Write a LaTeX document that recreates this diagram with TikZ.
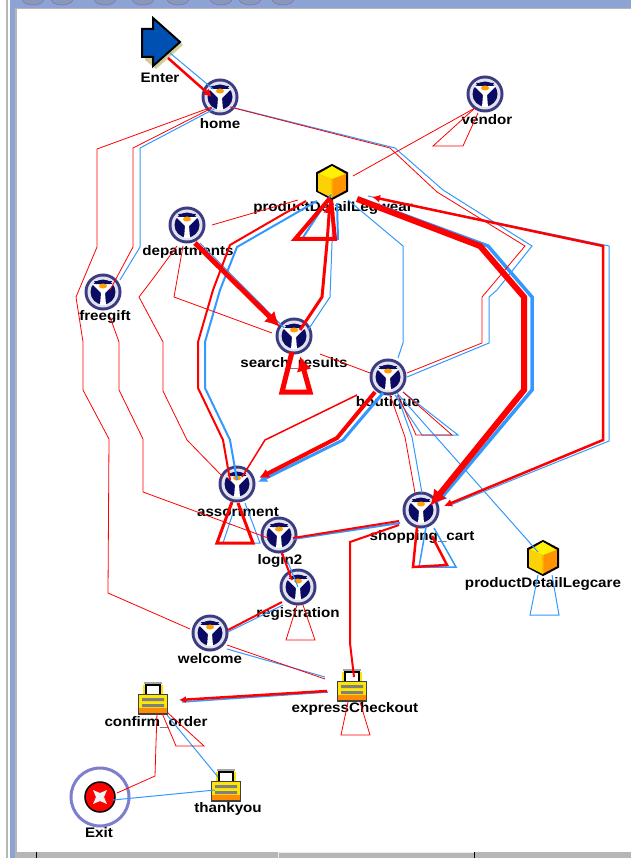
\documentclass[tikz,border=0pt]{standalone}
\usepackage{fontspec}
\setmainfont[FakeStretch=1.1]{Liberation Sans}
\usetikzlibrary{arrows.meta}
\definecolor{flowred}{HTML}{FF0000}
\definecolor{flowblue}{HTML}{3399FF}
\definecolor{navy}{HTML}{0B0B63}
\definecolor{panel}{HTML}{8CA3D3}
\definecolor{barg}{HTML}{B6B6B6}
\tikzset{
  hub/.style={circle,inner sep=0pt,outer sep=0pt,minimum size=26pt},
  lbl/.style={inner sep=0pt,font=\bfseries\fontsize{13.8}{14}\selectfont,text=black},
  rline/.style={flowred,line join=miter,line width=#1},
  rline/.default=0.8pt,
  bline/.style={flowblue,line join=miter,line width=#1},
  bline/.default=1pt,
  head/.style={-{Latex[length=#1,width=#1]}},
  martiniicon/.pic={
    \fill[navy!80] (0,0) circle (18.5);
    \fill[white!88!navy] (0,0) circle (15.5);
    \fill[navy] (0,0) circle (12.5);
    \fill[white] (-11,-8) -- (11,-8) -- (2,1) -- (3,13) -- (-3,13) -- (-2,1) -- cycle;
    \fill[navy] (-9,-11) -- (9,-11) -- (7,-8) -- (-7,-8) -- cycle;
    \fill[orange!75!yellow] (0,-6) ellipse (4 and 2.5);
  },
  lockicon/.pic={
    \draw[black,line width=1.5pt,fill=white] (-7,-3) -- (-7,-13) -- (7,-13) -- (7,-3);
    \draw[yellow!85!orange,line width=2pt] (-9,-3) -- (-9,-13) (9,-3) -- (9,-13);
    \draw[gray!70,line width=2.5pt] (-9,-15) -- (9,-15);
    \fill[black!75] (-15,-4) rectangle (15,17);
    \fill[yellow!90!orange] (-14,-3) rectangle (14,12);
    \fill[orange!90!yellow] (-14,10) rectangle (14,15);
    \fill[gray] (-11,0) rectangle (11,3) (-11,6) rectangle (11,9);
  },
  cubeicon/.pic={
    \draw[black,line width=2pt,fill=orange!85!yellow] (0,-17) -- (15,-9) -- (15,9) -- (0,17) -- (-15,9) -- (-15,-9) -- cycle;
    \fill[yellow] (0,-16) -- (13,-8) -- (0,-3) -- (-13,-8) -- cycle;
    \fill[yellow!70!orange] (-14,-8) -- (0,-3) -- (0,16) -- (-14,9) -- cycle;
    \draw[orange!60!yellow,line width=2pt,dash pattern=on 2pt off 1pt] (0,-3) -- (0,15);
  }
}
\begin{document}
\begin{tikzpicture}[x=1pt,y=-1pt]
  \useasboundingbox (0,0) rectangle (631,858);
  % window frame
  \fill[white] (0,0) rectangle (631,858);
  \fill[barg] (6,0) rectangle (8,858);
  \fill[panel] (10,0) rectangle (631,8);
  \fill[panel] (10,0) rectangle (15,858);
  \fill[barg] (15,8) rectangle (631,9.5);
  \fill[barg] (15,8) rectangle (17,858);
  \foreach \x in {33,62,105,143,178,221,250,283}{
    \draw[panel!60!violet,fill=panel!70!gray] (\x,-1) ellipse (11 and 6);
  }
  \fill[barg] (17,852) rectangle (631,858);
  \draw[white!85!gray,line width=1pt] (278,858) -- (278,852.5) -- (474,852.5);
  \draw[black,line width=1pt] (36,852) -- (36,858) (474,852) -- (474,858);
  % icons and names
  \fill[yellow!40!gray!70] (145,32) -- (156,32) -- (156,21) -- (183,45) -- (156,69) -- (145,60) -- cycle;
  \draw[black,line width=2pt,fill=blue!55!cyan!70!black,line join=miter] (142,29) -- (153,29) -- (153,18) -- (180,42) -- (153,66) -- (153,57) -- (142,57) -- cycle;
  \node[hub] (enter) at (161,42) {};
  \node[lbl] (enterlbl) at (160,78) {Enter};
  \foreach \nm/\x/\y/\lx/\ly/\txt in {
    home/220/97/220/124/home,
    vendor/485/94/487/120/vendor,
    dept/187/225/188/252/departments,
    freegift/103/292/105/317/freegift,
    search/294/336/294/363/search\_results,
    boutique/388/377/388/403/boutique,
    assort/237/484/238/512/assortment,
    logintwo/279/535/280/561/login2,
    regist/298/587/298/614/registration,
    welcome/210/633/210/659/welcome,
    cart/421/510/422/537/shopping\_cart}{
    \pic at (\x,\y) {martiniicon};
    \node[hub] (\nm) at (\x,\y) {};
    \node[lbl] (\nm lbl) at (\lx,\ly) {\txt};
  }
  \foreach \nm/\x/\y/\lx/\ly/\txt in {
    legwear/332/182/333/208/productDetailLegwear,
    legcare/543/558/543/584/productDetailLegcare}{
    \pic at (\x,\y) {cubeicon};
    \node[hub] (\nm) at (\x,\y) {};
    \node[lbl] (\nm lbl) at (\lx,\ly) {\txt};
  }
  \foreach \nm/\x/\y/\lx/\ly/\txt in {
    express/352/685/355/709/expressCheckout,
    confirm/153/698/156/722/confirm\_order,
    thankyou/226/785/228/809/thankyou}{
    \pic at (\x,\y) {lockicon};
    \node[hub] (\nm) at (\x,\y) {};
    \node[lbl] (\nm lbl) at (\lx,\ly) {\txt};
  }
  \draw[blue!45!gray!70!white,line width=3pt] (100,797) circle (29);
  \draw[black,line width=1.5pt,fill=flowred] (100,797) circle (15);
  \fill[white!90!gray] (93,790) -- (100,793) -- (107,790) -- (104,797) -- (107,804) -- (100,801) -- (93,804) -- (96,797) -- cycle;
  \node[hub] (exit) at (100,797) {};
  \node[lbl] (exitlbl) at (99,833) {Exit};
  % blue connectors
  \draw[bline] ([shift={(9,11)}]enter.center) -- ([shift={(-7,-8)}]home.center);
  \draw[bline] (home.245) -- (140,148) -- (140,247) -- ([shift={(17,-12)}]freegift.center);
  \draw[bline] ([shift={(11,10)}]home.center) -- (395,148) -- (443,190) -- (532,246) -- (497,290) -- (489,297) -- (489,343) -- ([shift={(19,0)}]boutique.center);
  \draw[bline] ([shift={(13,18)}]dept.center) -- (search.140);
  \draw[bline=2pt] ([shift={(-15,19)}]legwear.center) -- (237,247) -- (220,290) -- (205,342) -- (205,388) -- (230,440) -- ([shift={(0,-4)}]assort.center);
  \draw[bline=2pt] (legwear.265) -- (302,239) -- (338,239) -- ([shift={(5,21)}]legwear.center);
  \draw[bline] ([shift={(14,-6)}]search.center) -- (330,297) -- (332,243) -- ([shift={(1,21)}]legwear.center);
  \draw[bline=3pt,head=9pt] ([shift={(-5,16)}]boutique.center) -- (343,440) -- ([shift={(21,-2)}]assort.center);
  \draw[bline] ([shift={(-4,29)}]assort.center) -- (223,543) -- (260,543) -- ([shift={(8,19)}]assort.center);
  \draw[bline=2pt] ([shift={(14,4)}]logintwo.center) -- ([shift={(-21,13)}]cart.center);
  \draw[bline] ([shift={(8,25)}]logintwo.center) -- (regist.center);
  \draw[bline] ([shift={(-15,18)}]regist.center) -- ([shift={(18,-1)}]welcome.center);
  \draw[bline] ([shift={(17,16)}]welcome.center) -- ([shift={(-27,-8)}]express.center);
  \draw[bline=1.5pt] ([shift={(-24,7)}]express.center) -- ([shift={(29,4)}]confirm.center);
  \draw[bline] ([shift={(14,17)}]confirm.center) -- ([shift={(-8,-8)}]thankyou.center);
  \draw[bline] ([shift={(-11,5)}]thankyou.center) -- ([shift={(13,3)}]exit.center);
  \draw[bline] ([shift={(9,18)}]boutique.center) -- (412,437) -- ([shift={(1,-17)}]cart.center);
  \draw[bline] ([shift={(7,18)}]boutique.center) -- (422,435) -- (458,435) -- ([shift={(15,15)}]boutique.center);
  \draw[bline] ([shift={(9,16)}]boutique.center) -- ([shift={(-5,-6)}]legcare.center);
  \draw[bline] ([shift={(16,18)}]legwear.center) -- (403,246) -- (403,343) -- ([shift={(10,-19)}]boutique.center);
  \draw[bline=3.5pt,head=10pt] ([shift={(26,16)}]legwear.center) -- (488,246) -- (532,297) -- (532,390) -- ([shift={(16,-7)}]cart.center);
  \draw[bline] ([shift={(27,-4)}]cart.center) -- (609,441) -- (609,246) -- ([shift={(36,14)}]legwear.center);
  \draw[bline=1.5pt] ([shift={(5,17)}]cart.center) -- (419,567) -- (456,567) -- ([shift={(13,18)}]cart.center);
  \draw[bline] ([shift={(-5,17)}]legcare.center) -- (530,615) -- (559,615) -- ([shift={(9,17)}]legcare.center);
  % red connectors
  \draw[rline=2.5pt,head=8pt] ([shift={(7,16)}]enter.center) -- ([shift={(-8,0)}]home.center);
  \draw[rline] ([shift={(-8,10)}]home.center) -- (97,149) -- (97,247) -- (76,297) -- (83,342) -- (83,390) -- (109,439) -- (108,593) -- ([shift={(-20,-4)}]welcome.center);
  \draw[rline] ([shift={(-8,11)}]home.center) -- (133,148) -- (133,247) -- ([shift={(7,-2)}]freegift.center);
  \draw[rline] ([shift={(7,25)}]freegift.center) -- (119,342) -- (119,390) -- (143,439) -- (143,492) -- ([shift={(-11,3)}]logintwo.center);
  \draw[rline] ([shift={(10,10)}]home.center) -- (390,148) -- (437,192) -- (525,246) -- (488,290) -- (482,297) -- (482,343) -- ([shift={(19,-4)}]boutique.center);
  \draw[rline] ([shift={(-10,14)}]vendor.center) -- ([shift={(21,-6)}]legwear.center);
  \draw[rline] ([shift={(-10,14)}]vendor.center) -- (433,146) -- (463,146) -- ([shift={(-7,19)}]vendor.center);
  \draw[rline] ([shift={(25,0)}]dept.center) -- ([shift={(-34,18)}]legwear.center);
  \draw[rline=5pt,head=15pt] ([shift={(8,18)}]dept.center) -- ([shift={(-14,-9)}]search.center);
  \draw[rline] ([shift={(-10,21)}]dept.center) -- (152,280) -- (139,297) -- (163,342) -- (163,391) -- (187,440) -- ([shift={(-14,-7)}]assort.center);
  \draw[rline] ([shift={(-4,21)}]dept.center) -- (177,280) -- (174,297) -- ([shift={(-22,-3)}]search.center);
  \draw[rline=2pt] ([shift={(-26,19)}]legwear.center) -- (230,245) -- (213,290) -- (198,342) -- (198,388) -- (223,440) -- ([shift={(-7,-4)}]assort.center);
  \draw[rline=4pt] ([shift={(-2,16)}]legwear.center) -- (295,239) -- (335,239) -- ([shift={(-1,18)}]legwear.center);
  \draw[rline=3pt,head=12pt] ([shift={(6,-6)}]search.center) -- (322,297) -- (327,243) -- ([shift={(-2,19)}]legwear.center);
  \draw[rline=5pt,head=15pt] ([shift={(-2,16)}]search.center) -- (282,392) -- (310,392) -- ([shift={(6,20)}]search.center);
  \draw[rline] ([shift={(26,18)}]search.center) -- ([shift={(-18,-4)}]boutique.center);
  \draw[rline=4pt,head=10pt] ([shift={(-13,15)}]boutique.center) -- (337,438) -- ([shift={(22,-6)}]assort.center);
  \draw[rline=1.5pt] ([shift={(-31,18)}]boutique.center) -- (265,440) -- ([shift={(5,-7)}]assort.center);
  \draw[rline=3pt] ([shift={(-5,18)}]assort.center) -- (217,543) -- (253,543) -- ([shift={(1,19)}]assort.center);
  \draw[rline=2pt] ([shift={(14,3)}]logintwo.center) -- ([shift={(-22,11)}]cart.center);
  \draw[rline=2pt] ([shift={(3,18)}]logintwo.center) -- ([shift={(-6,-7)}]regist.center);
  \draw[rline=2pt] ([shift={(-22,15)}]cart.center) -- (350,542) -- (350,643) -- ([shift={(2,-8)}]express.center);
  \draw[rline=2pt] ([shift={(-16,15)}]regist.center) -- ([shift={(18,-3)}]welcome.center);
  \draw[rline] ([shift={(-1,18)}]regist.center) -- (286,640) -- (315,640) -- ([shift={(5,18)}]regist.center);
  \draw[rline] ([shift={(17,12)}]welcome.center) -- ([shift={(-27,-6)}]express.center);
  \draw[rline] ([shift={(-4,17)}]express.center) -- (341,735) -- (370,735) -- ([shift={(8,17)}]express.center);
  \draw[rline=2.5pt,head=7pt] ([shift={(-25,6)}]express.center) -- ([shift={(26,2)}]confirm.center);
  \draw[rline] ([shift={(9,15)}]confirm.center) -- (176,746) -- (204,746) -- ([shift={(15,15)}]confirm.center);
  \draw[rline] ([shift={(4,15)}]confirm.center) -- (156,743) -- (155,776) -- ([shift={(17,-4)}]exit.center);
  \draw[rline] ([shift={(2,18)}]boutique.center) -- (405,437) -- ([shift={(-6,-17)}]cart.center);
  \draw[rline] ([shift={(10,18)}]boutique.center) -- (416,435) -- (452,435) -- ([shift={(15,15)}]boutique.center);
  \draw[rline=6pt,head=16pt] ([shift={(25,17)}]legwear.center) -- (480,246) -- (524,297) -- (524,390) -- ([shift={(9,-4)}]cart.center);
  \draw[rline=2.5pt,{Latex[length=8pt,width=8pt]}-{Latex[length=8pt,width=8pt]}] ([shift={(23,-4)}]cart.center) -- (603,440) -- (603,246) -- ([shift={(40,15)}]legwear.center);
  \draw[rline=2.5pt] ([shift={(-4,17)}]cart.center) -- (413,567) -- (447,565) -- ([shift={(11,26)}]cart.center);
\end{tikzpicture}
\end{document}
